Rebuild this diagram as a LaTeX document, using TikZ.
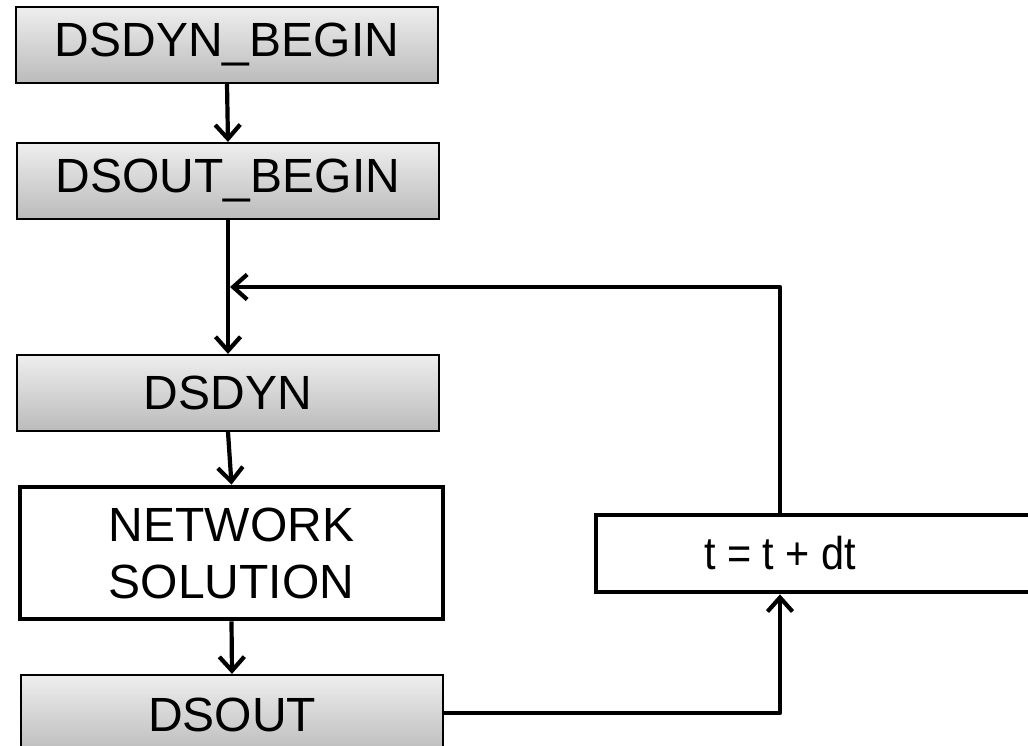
\documentclass[tikz,border=0pt]{standalone}
\usepackage{fontspec}
\setmainfont{Liberation Sans}
\usetikzlibrary{arrows.meta}
\definecolor{gtop}{HTML}{EEEEEE}
\definecolor{gbot}{HTML}{BBBBBB}
\tikzset{
  gbox/.style={draw=black, line width=2.2pt, top color=gtop, bottom color=gbot,
    minimum width=422pt, minimum height=76pt, inner sep=0pt, font=\fontsize{48}{57}\selectfont},
  wbox/.style={draw=black, line width=4.8pt, fill=white, inner sep=0pt,
    font=\fontsize{48}{57}\selectfont, align=center},
  conn/.style={line width=4.2pt, line join=round, -{Straight Barb[length=14pt,width=25pt,line width=4.2pt]}}
}
\begin{document}
\begin{tikzpicture}[x=1pt,y=-1pt]
\clip (0,0) rectangle (1028,746);
\fill[white] (0,0) rectangle (1028,746);
\node[gbox] (b1) at (227,45) {DSDYN\_BEGIN};
\node[gbox] (b2) at (228,181) {DSOUT\_BEGIN};
\node[gbox] (b3) at (228,393) {DSDYN};
\node[wbox, minimum width=423pt, minimum height=132pt] (ns) at (231.5,553) {NETWORK\\SOLUTION};
\node[gbox, minimum height=80pt] (b5) at (232,715) {};
\node[font=\fontsize{48}{57}\selectfont] (b5t) at (232,715) {DSOUT};
\node[wbox, minimum width=444pt, minimum height=77pt] (tb) at (818,553.5) {};
\node[font=\fontsize{46}{55}\selectfont, xscale=0.9] (tt) at (780,553) {t = t + dt};
\coordinate (j) at (228,287);
\coordinate (c1) at (780,287);
\coordinate (c2) at (780,713);
\draw[conn] (b1.south) -- (b2.north);
\draw[conn] (b2.south) -- (b3.north);
\draw[conn] (c1 |- tb.north) -- (c1) -- ([xshift=2pt]j);
\draw[conn] (b3.south) -- (ns.north);
\draw[conn] (ns.south) -- (b5.north);
\draw[conn] (b5.east |- c2) -- (c2) -- (c2 |- tb.south);
\end{tikzpicture}
\end{document}
